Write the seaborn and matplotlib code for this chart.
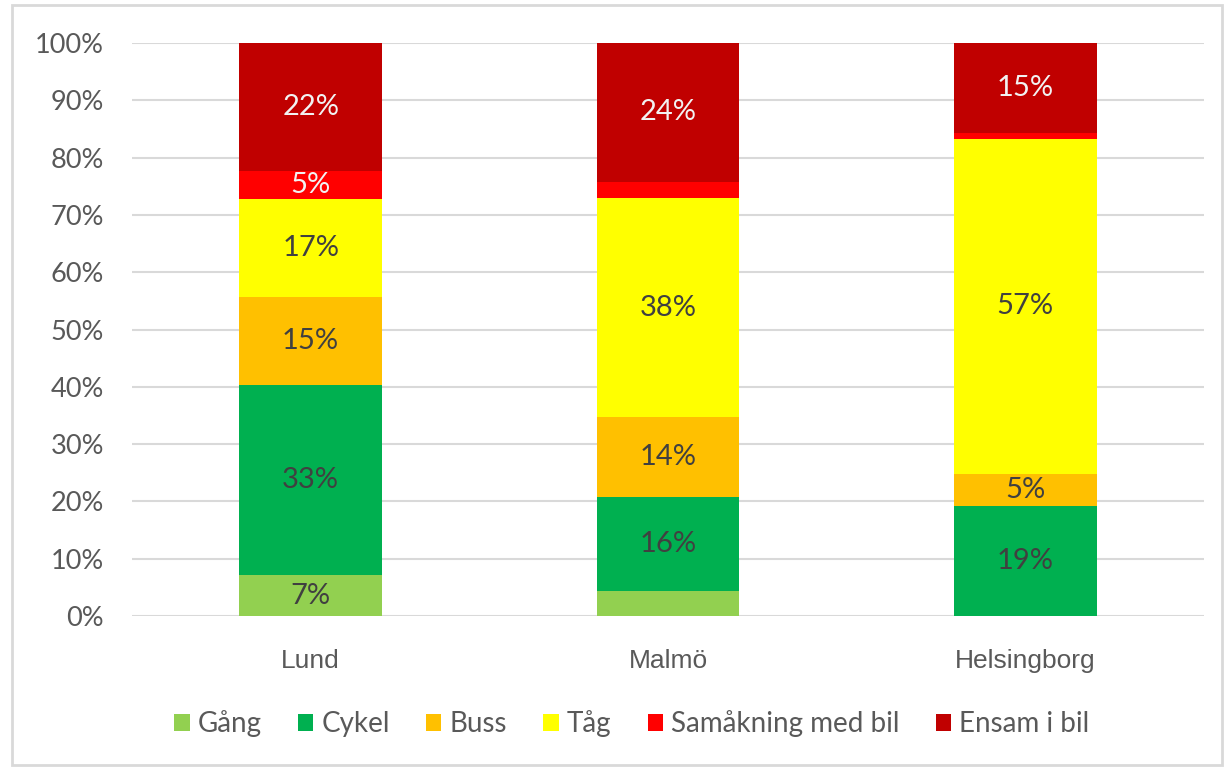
import numpy as np
import pandas as pd
import seaborn as sns
import matplotlib.pyplot as plt
from matplotlib.patches import Patch, Rectangle

# raw shares per city (Excel-style 100% stacked: bars are normalised, labels show raw value)
cities = ["Lund", "Malmö", "Helsingborg"]
modes = ["Gång", "Cykel", "Buss", "Tåg", "Samåkning med bil", "Ensam i bil"]
gang = [7.1, 4.4, 0.0]
cykel = [33.2, 16.4, 18.8]
buss = [15.3, 13.8, 5.4]
tag = [17.1, 38.2, 57.3]
samakning = [4.9, 2.8, 0.9]
ensam = [22.3, 24.2, 15.4]

colors = ["#92D050", "#00B050", "#FFC000", "#FFFF00", "#FF0000", "#C00000"]
label_colors = ["#404040", "#404040", "#404040", "#404040", "#F2F2F2", "#F2F2F2"]

sns.set_style("white")
plt.rcParams["font.family"] = ["Lato", "DejaVu Sans"]

raw = pd.DataFrame([gang, cykel, buss, tag, samakning, ensam], index=modes, columns=cities)
share = raw / raw.sum() * 100
cum = share.cumsum()

fig = plt.figure(figsize=(12.25, 7.69), dpi=100)
ax = fig.add_axes([132 / 1225, 1 - 616 / 769, (1204 - 132) / 1225, (616 - 43) / 769])

# draw from the top layer down so each cumulative bar covers the ones above it
for i in reversed(range(len(modes))):
    df = pd.DataFrame({"city": cities, "top": cum.iloc[i].values})
    sns.barplot(data=df, x="city", y="top", color=colors[i], width=0.4,
                saturation=1, linewidth=0, edgecolor="none", ax=ax, zorder=2)

for j, city in enumerate(cities):
    for i, mode in enumerate(modes):
        val = raw.loc[mode, city]
        if val < 4.5:
            continue
        mid = cum.iloc[i][city] - share.loc[mode, city] / 2
        ax.text(j, mid, "{:.0f}%".format(val), ha="center", va="center",
                fontsize=21, color=label_colors[i], zorder=3)

ax.set_ylim(0, 100)
ax.set_xlim(-0.5, 2.5)
ax.set_yticks(np.arange(0, 101, 10))
ax.set_yticklabels(["{}%".format(t) for t in range(0, 101, 10)])
ax.yaxis.grid(True, color="#D9D9D9", linewidth=1.5, zorder=0)
ax.set_axisbelow(True)
for s in ax.spines.values():
    s.set_visible(False)
ax.tick_params(axis="y", length=0, pad=20, labelsize=19.5, labelcolor="#595959")
ax.tick_params(axis="x", length=0, pad=24, labelsize=19, labelcolor="#595959")
for lab in ax.get_xticklabels():
    lab.set_family(["Liberation Sans", "DejaVu Sans"])
ax.set_xlabel("")
ax.set_ylabel("")

handles = [Patch(facecolor=c, edgecolor="none") for c in colors]
fig.legend(handles, modes, loc="center", bbox_to_anchor=(632 / 1225, 1 - 724 / 769),
           ncol=6, frameon=False, fontsize=20, labelcolor="#595959",
           handlelength=0.55, handleheight=0.55, handletextpad=0.3, columnspacing=1.3)

fig.patches.append(Rectangle((12 / 1225, 4 / 769), 1210 / 1225, 760 / 769,
                             transform=fig.transFigure, fill=False,
                             edgecolor="#D9D9D9", linewidth=2))

fig.savefig("out.png", dpi=100, facecolor="white")
